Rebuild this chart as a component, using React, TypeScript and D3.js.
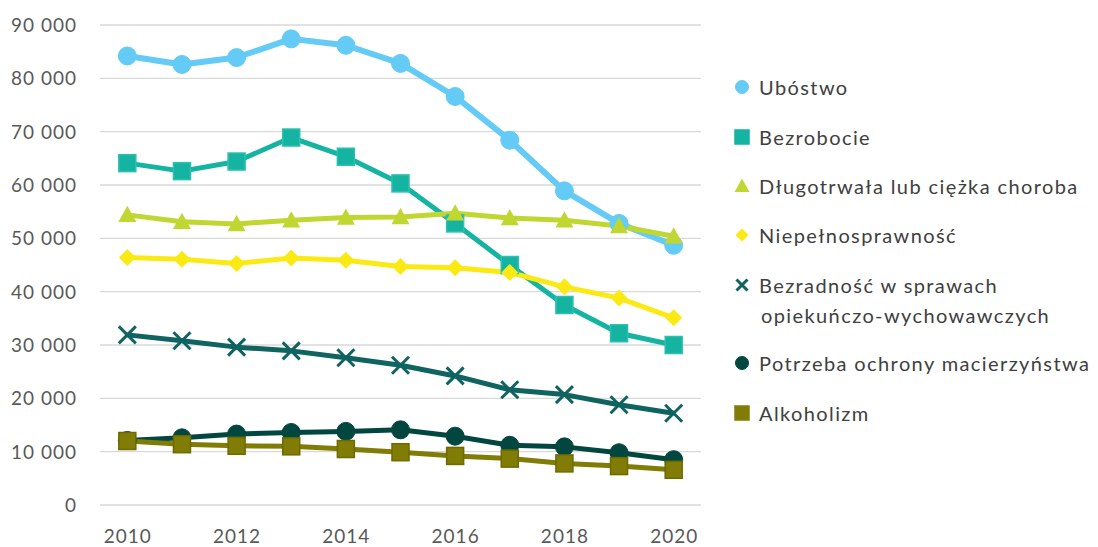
import React from "react";
import * as d3 from "d3";

const years = [2010, 2011, 2012, 2013, 2014, 2015, 2016, 2017, 2018, 2019, 2020];
const yTicks = [0, 10000, 20000, 30000, 40000, 50000, 60000, 70000, 80000, 90000];
const xTickYears = [2010, 2012, 2014, 2016, 2018, 2020];

const ubostwo = [84200, 82600, 83900, 87400, 86200, 82800, 76600, 68400, 58900, 52800, 48700];
const bezrobocie = [64100, 62600, 64400, 68900, 65300, 60300, 52800, 45000, 37500, 32200, 30000];
const choroba = [54400, 53100, 52700, 53400, 53900, 54000, 54700, 53800, 53400, 52300, 50400];
const niepelno = [46400, 46100, 45300, 46300, 45900, 44700, 44500, 43600, 40900, 38800, 35100];
const bezradnosc = [31900, 30800, 29600, 28900, 27600, 26200, 24200, 21600, 20700, 18800, 17200];
const macierz = [12100, 12600, 13300, 13600, 13800, 14100, 12900, 11200, 10900, 9800, 8500];
const alkohol = [12000, 11400, 11100, 11000, 10500, 9900, 9200, 8700, 7800, 7300, 6600];

type Shape = "circle" | "square" | "triangle" | "diamond" | "x";
const series: { name: string[]; values: number[]; color: string; edge: string; shape: Shape }[] = [
  { name: ["Ubóstwo"], values: ubostwo, color: "#63cbf5", edge: "#63cbf5", shape: "circle" },
  { name: ["Bezrobocie"], values: bezrobocie, color: "#14b3a2", edge: "#2cc0b0", shape: "square" },
  { name: ["Długotrwała lub ciężka choroba"], values: choroba, color: "#bfd730", edge: "#bfd730", shape: "triangle" },
  { name: ["Niepełnosprawność"], values: niepelno, color: "#fbe913", edge: "#fbe913", shape: "diamond" },
  { name: ["Bezradność w sprawach", "opiekuńczo-wychowawczych"], values: bezradnosc, color: "#0f6360", edge: "#0f6360", shape: "x" },
  { name: ["Potrzeba ochrony macierzyństwa"], values: macierz, color: "#01463f", edge: "#01463f", shape: "circle" },
  { name: ["Alkoholizm"], values: alkohol, color: "#807c06", edge: "#6e6a00", shape: "square" },
];

const W = 1098;
const H = 547;
const font = "Lato, 'Open Sans', sans-serif";

const x = d3.scalePoint<number>().domain(years).range([100, 701]).padding(0.5);
const y = d3.scaleLinear().domain([0, 90000]).range([505, 25]);
const fmt = (v: number) => d3.format(",")(v).replace(/,/g, " ");

function Marker({ shape, cx, cy, size, color, edge }: { shape: Shape; cx: number; cy: number; size: number; color: string; edge: string }) {
  const h = size / 2;
  if (shape === "circle") return <circle cx={cx} cy={cy} r={h} fill={color} stroke={edge} strokeWidth={1} />;
  if (shape === "square")
    return <rect x={cx - h} y={cy - h} width={size} height={size} fill={color} stroke={edge} strokeWidth={1.5} />;
  if (shape === "triangle")
    return <path d={`M${cx},${cy - h} L${cx + h},${cy + h * 0.8} L${cx - h},${cy + h * 0.8} Z`} fill={color} />;
  if (shape === "diamond")
    return <path d={`M${cx},${cy - h} L${cx + h},${cy} L${cx},${cy + h} L${cx - h},${cy} Z`} fill={color} />;
  return (
    <path
      d={`M${cx - h},${cy - h} L${cx + h},${cy + h} M${cx - h},${cy + h} L${cx + h},${cy - h}`}
      stroke={color}
      strokeWidth={3}
      fill="none"
    />
  );
}

const markerSize: Record<Shape, number> = { circle: 18, square: 17, triangle: 18, diamond: 17, x: 17 };
const legendSize: Record<Shape, number> = { circle: 13, square: 14, triangle: 15, diamond: 13, x: 11 };
const legendY = [87, 137, 186, 235, 285, 363, 413];

export default function App() {
  const line = d3
    .line<number>()
    .x((_, i) => x(years[i]) as number)
    .y((d) => y(d));

  return (
    <svg width={W} height={H} style={{ position: "absolute", left: 0, top: 0, background: "#fff" }}>
      {yTicks.map((t) => (
        <g key={t}>
          <line x1={100} x2={701} y1={y(t)} y2={y(t)} stroke="#d9d9d9" strokeWidth={1.3} />
          <text x={77} y={y(t)} dy="0.37em" textAnchor="end" fontFamily={font} fontSize={19} letterSpacing={1} fill="#595959">
            {fmt(t)}
          </text>
        </g>
      ))}
      {xTickYears.map((yr) => (
        <text key={yr} x={(x(yr) as number) + 0.5} y={543} textAnchor="middle" fontFamily={font} fontSize={19} letterSpacing={1} fill="#595959">
          {yr}
        </text>
      ))}
      {series.map((s) => (
        <path key={s.name[0]} d={line(s.values) || ""} fill="none" stroke={s.color} strokeWidth={s.shape === "circle" && s.color === "#63cbf5" ? 6 : 5} strokeLinejoin="round" />
      ))}
      {series.map((s) => (
        <g key={s.name[0] + "m"}>
          {s.values.map((v, i) => (
            <Marker key={i} shape={s.shape} cx={x(years[i]) as number} cy={y(v)} size={markerSize[s.shape]} color={s.color} edge={s.edge} />
          ))}
        </g>
      ))}
      {series.map((s, k) => (
        <g key={s.name[0] + "l"}>
          <Marker shape={s.shape} cx={742} cy={legendY[k]} size={legendSize[s.shape]} color={s.color} edge={s.color} />
          {s.name.map((n, j) => (
            <text key={j} x={j === 0 ? 759 : 761} y={legendY[k] + j * 30} dy="0.4em" fontFamily={font} fontSize={20} letterSpacing={1.4} fill="#404040">
              {n}
            </text>
          ))}
        </g>
      ))}
    </svg>
  );
}
